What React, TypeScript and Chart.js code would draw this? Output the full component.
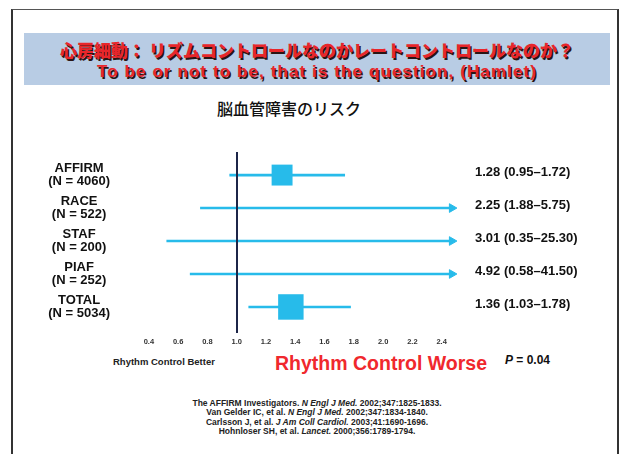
import React, { useEffect, useRef } from "react";
import { Chart, registerables } from "chart.js";

Chart.register(...registerables);

// ---- data ----
const trials = ["AFFIRM", "RACE", "STAF", "PIAF", "TOTAL"];
const sampleSizes = ["N = 4060", "N = 522", "N = 200", "N = 252", "N = 5034"];
const oddsRatios = [1.28, 2.25, 3.01, 4.92, 1.36];
const ciLower = [0.95, 1.88, 0.35, 0.58, 1.03];
const ciUpper = [1.72, 5.75, 25.3, 41.5, 1.78];
// positions as drawn on the slide
const drawnPoint = [1.31, null, null, null, 1.37];
const drawnLower = [0.95, 0.75, 0.52, 0.68, 1.08];
const drawnUpper = [1.74, 2.47, 2.47, 2.47, 1.78];
const offScale = [false, true, true, true, false];
const xTicks = [0.4, 0.6, 0.8, 1.0, 1.2, 1.4, 1.6, 1.8, 2.0, 2.2, 2.4];
const references = [
  ["The AFFIRM Investigators. ", "N Engl J Med.", " 2002;347:1825-1833."],
  ["Van Gelder IC, et al. ", "N Engl J Med.", " 2002;347:1834-1840."],
  ["Carlsson J, et al. ", "J Am Coll Cardiol.", " 2003;41:1690-1696."],
  ["Hohnloser  SH, et al. ", "Lancet.", " 2000;356:1789-1794."],
];

const BLUE = "#27BBEA";
const NAVY = "#1C2548";
const FONT = '"Liberation Sans", Arial, sans-serif';
const JP = '"Noto Sans CJK JP", sans-serif';

function rightLabel(i: number) {
  return `${oddsRatios[i].toFixed(2)} (${ciLower[i].toFixed(2)}–${ciUpper[i].toFixed(2)})`;
}

function ForestChart() {
  const ref = useRef<HTMLCanvasElement>(null);
  useEffect(() => {
    if (!ref.current) return;
    const boxData: any[] = [];
    const boxRadius: number[] = [];
    drawnPoint.forEach((v, i) => {
      if (v !== null) {
        boxData.push({ x: v, y: i });
        boxRadius.push(i === trials.length - 1 ? 18 : 14.8);
      }
    });
    const lineSets = trials.map((t, i) => ({
      label: t,
      type: "line" as const,
      data: [
        { x: drawnLower[i], y: i },
        { x: drawnUpper[i], y: i },
      ],
      showLine: true,
      borderColor: BLUE,
      borderWidth: 2.6,
      pointStyle: "triangle" as const,
      pointRotation: 90,
      pointRadius: [0, offScale[i] ? 5 : 0],
      pointBackgroundColor: BLUE,
      pointBorderColor: BLUE,
      pointBorderWidth: 1,
      yAxisID: "y",
    }));
    const yCommon = {
      type: "linear" as const,
      reverse: true,
      min: -0.7,
      max: 4.79,
      grid: { display: false, drawTicks: false },
      border: { display: false },
      afterBuildTicks: (s: any) => {
        s.ticks = trials.map((_, i) => ({ value: i }));
      },
    };
    const chart = new Chart(ref.current, {
      type: "scatter",
      data: {
        datasets: [
          {
            label: "box",
            data: boxData,
            showLine: false,
            pointStyle: "rect",
            pointRadius: boxRadius,
            backgroundColor: BLUE,
            borderColor: BLUE,
            borderWidth: 0,
            yAxisID: "y",
          } as any,
          ...lineSets,
        ],
      },
      options: {
        responsive: false,
        animation: false,
        layout: { padding: { left: 30, right: 39, top: 152, bottom: 101 } },
        plugins: { legend: { display: false }, tooltip: { enabled: false }, title: { display: false } },
        scales: {
          x: {
            type: "linear",
            min: 0.3395,
            max: 2.539,
            afterBuildTicks: (s: any) => {
              s.ticks = xTicks.map((v) => ({ value: v }));
            },
            afterFit: (s: any) => {
              s.height = 20;
            },
            ticks: {
              callback: (v: any) => Number(v).toFixed(1),
              font: { family: FONT, size: 7.5, weight: "bold" },
              color: "#333",
              padding: 4,
              maxRotation: 0,
              autoSkip: false,
            },
            grid: {
              drawTicks: false,
              color: (ctx: any) => (ctx.tick && Math.abs(ctx.tick.value - 1) < 1e-9 ? NAVY : "rgba(0,0,0,0)"),
              lineWidth: 2,
              z: 1,
            } as any,
            border: { display: false },
          },
          y: {
            ...yCommon,
            position: "left",
            afterFit: (s: any) => {
              s.width = 110;
            },
            ticks: {
              callback: (v: any) => [trials[v], `(${sampleSizes[v]})`],
              crossAlign: "center",
              padding: 30,
              font: { family: FONT, size: 13, weight: "bold", lineHeight: 1.0 },
              color: "#111",
              autoSkip: false,
            },
          } as any,
          y2: {
            ...yCommon,
            position: "right",
            afterFit: (s: any) => {
              s.width = 120;
            },
            ticks: {
              callback: (v: any) => rightLabel(v),
              padding: 13,
              labelOffset: -3,
              font: { family: FONT, size: 13, weight: "bold" },
              color: "#111",
              autoSkip: false,
            },
          } as any,
        },
      },
    });
    return () => chart.destroy();
  }, []);
  return (
    <canvas
      ref={ref}
      width={621}
      height={454}
      style={{ position: "absolute", left: 0, top: 0, width: 621, height: 454 }}
    />
  );
}

export default function App() {
  return (
    <div
      style={{
        position: "absolute",
        left: 0,
        top: 0,
        width: 621,
        height: 454,
        overflow: "hidden",
        background: "#fff",
        fontFamily: FONT,
      }}
    >
      <div
        style={{
          position: "absolute",
          left: 11,
          top: 9,
          width: 604,
          height: 470,
          borderLeft: "2px solid #333",
          borderTop: "1px solid #555",
          borderRight: "2px solid #333",
        }}
      />
      <div
        style={{
          position: "absolute",
          left: 24,
          top: 33,
          width: 586,
          height: 52,
          background: "#B8CCE4",
        }}
      >
        <div
          style={{
            position: "absolute",
            left: 0,
            right: 0,
            top: 7,
            lineHeight: "20px",
            textAlign: "center",
            whiteSpace: "nowrap",
            fontFamily: JP,
            fontWeight: 900,
            fontSize: 17,
            color: "#E8262B",
            textShadow: "1.5px 1.5px 0 #2a1515",
          }}
        >
          心房細動： リズムコントロールなのかレートコントロールなのか？
        </div>
        <div
          style={{
            position: "absolute",
            left: 0,
            right: 0,
            top: 29,
            lineHeight: "20px",
            textAlign: "center",
            whiteSpace: "nowrap",
            fontFamily: FONT,
            fontWeight: 700,
            fontSize: 17,
            letterSpacing: "1.1px",
            color: "#E8262B",
            textShadow: "1.5px 1.5px 0 #2a1515",
          }}
        >
          To be or not to be, that is the question, (Hamlet)
        </div>
      </div>
      <div
        style={{
          position: "absolute",
          left: 189,
          width: 200,
          top: 98,
          lineHeight: "20px",
          textAlign: "center",
          fontFamily: JP,
          fontWeight: 500,
          fontSize: 16,
          color: "#111",
        }}
      >
        脳血管障害のリスク
      </div>
      <div
        style={{
          position: "absolute",
          left: 113,
          top: 356,
          lineHeight: "12px",
          fontSize: 9.5,
          fontWeight: 700,
          color: "#222",
          whiteSpace: "nowrap",
        }}
      >
        Rhythm Control Better
      </div>
      <div
        style={{
          position: "absolute",
          left: 275,
          top: 351,
          lineHeight: "24px",
          fontSize: 19.5,
          fontWeight: 700,
          color: "#F0282D",
          whiteSpace: "nowrap",
        }}
      >
        Rhythm Control Worse
      </div>
      <div
        style={{
          position: "absolute",
          left: 505,
          top: 352,
          lineHeight: "16px",
          fontSize: 12,
          fontWeight: 700,
          color: "#111",
          whiteSpace: "nowrap",
        }}
      >
        <i>P</i> = 0.04
      </div>
      <div
        style={{
          position: "absolute",
          left: 117,
          width: 400,
          top: 399,
          textAlign: "center",
          fontSize: 8.5,
          lineHeight: "9.4px",
          fontWeight: 700,
          color: "#222",
        }}
      >
        {references.map((r, i) => (
          <div key={i} style={{ whiteSpace: "nowrap" }}>
            {r[0]}
            <i>{r[1]}</i>
            {r[2]}
          </div>
        ))}
      </div>
      <ForestChart />
    </div>
  );
}
